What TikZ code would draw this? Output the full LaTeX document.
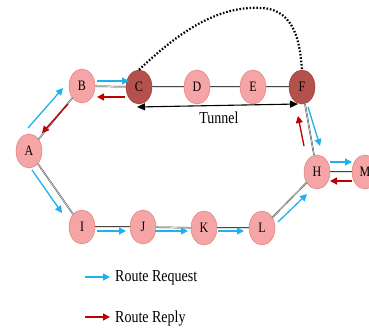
\documentclass[tikz,border=0pt]{standalone}
\usepackage{fontspec}
\setmainfont{Liberation Serif}
\usetikzlibrary{arrows.meta,shapes.geometric}
\definecolor{nodepink}{HTML}{F5A5A5}
\definecolor{nodeedge}{HTML}{E07C7C}
\definecolor{nodedark}{HTML}{B5514C}
\definecolor{darkedge}{HTML}{9E3D3A}
\definecolor{reqblue}{HTML}{1DB2EC}
\definecolor{repred}{HTML}{C00000}
\tikzset{
  net/.style={ellipse, draw=nodeedge, fill=nodepink, line width=0.5pt,
    minimum width=26pt, minimum height=34pt, inner sep=0pt,
    font=\fontsize{12}{12}\selectfont},
  hub/.style={net, draw=darkedge, fill=nodedark},
  link/.style={draw=gray!55!black, line width=0.45pt, double=gray!25, double distance=0.6pt},
  req/.style={draw=reqblue, line width=1.3pt, -{Triangle[length=7pt,width=7pt]}},
  rep/.style={draw=repred, line width=1.3pt, -{Triangle[length=7pt,width=7pt]}},
  tunnelarrow/.style={draw=black, line width=1.1pt, {Triangle[length=8pt,width=7pt]}-{Triangle[length=8pt,width=7pt]}},
  tunnelpath/.style={draw=black, line width=2.2pt, dash pattern=on 1.6pt off 1.8pt},
  lbl/.style={inner sep=0pt, font=\fontsize{14}{14}\selectfont}
}
\newcommand{\tall}[1]{\scalebox{1}[1.2]{#1}}
\begin{document}
\begin{tikzpicture}[x=1pt,y=-1pt]
\useasboundingbox (0,0) rectangle (369,331);
% nodes
\node[net] (A) at (29,151) {\tall{A}};
\node[net] (B) at (82,86) {\tall{B}};
\node[hub] (C) at (139,87) {\tall{C}};
\node[net] (D) at (197,87) {\tall{D}};
\node[net] (E) at (253,87) {\tall{E}};
\node[hub] (F) at (302,87) {\tall{F}};
\node[net] (H) at (317,172) {\tall{H}};
\node[net] (M) at (365,172) {\tall{M}};
\node[net] (I) at (82,227) {\tall{I}};
\node[net] (J) at (143,227) {\tall{J}};
\node[net] (K) at (204,228) {\tall{K}};
\node[net] (L) at (262,228) {\tall{L}};
% links
\draw[link] (A) -- (B);
\draw[link] (B) -- (C);
\draw[link] (C) -- (D);
\draw[link] (D) -- (E);
\draw[link] (E) -- (F);
\draw[link] (F) -- (H);
\draw[link] (H) -- (M);
\draw[link] (A) -- (I);
\draw[link] (I) -- (J);
\draw[link] (J) -- (K);
\draw[link] (K) -- (L);
\draw[link] (L) -- (H);
% tunnel
\draw[tunnelpath] (C.north) .. controls (175,36) and (215,5) .. (262,8)
  .. controls (296,10) and (300,45) .. (F.north);
\coordinate (t1) at (137,107);
\coordinate (t2) at (298,104);
\draw[tunnelarrow] (t1) -- (t2);
\node[lbl] (tun) at (219,118) {\tall{Tunnel}};
% request / reply arrows
\coordinate (q1s) at (28,128);  \coordinate (q1e) at (63,88);
\coordinate (q2s) at (97,81);   \coordinate (q2e) at (129,81);
\coordinate (p1s) at (125,97);  \coordinate (p1e) at (97,97);
\coordinate (p2s) at (68,104);  \coordinate (p2e) at (42,133);
\coordinate (q3s) at (308,107); \coordinate (q3e) at (320,146);
\coordinate (p3s) at (304,146); \coordinate (p3e) at (298,116);
\coordinate (q4s) at (330,162); \coordinate (q4e) at (352,162);
\coordinate (p4s) at (352,181); \coordinate (p4e) at (330,181);
\coordinate (q5s) at (32,170);  \coordinate (q5e) at (62,213);
\coordinate (q6s) at (97,231);  \coordinate (q6e) at (126,231);
\coordinate (q7s) at (155,231); \coordinate (q7e) at (188,231);
\coordinate (q8s) at (218,231); \coordinate (q8e) at (244,231);
\coordinate (q9s) at (278,222); \coordinate (q9e) at (307,194);
\draw[req] (q1s) -- (q1e);
\draw[req] (q2s) -- (q2e);
\draw[rep] (p1s) -- (p1e);
\draw[rep] (p2s) -- (p2e);
\draw[req] (q3s) -- (q3e);
\draw[rep] (p3s) -- (p3e);
\draw[req] (q4s) -- (q4e);
\draw[rep] (p4s) -- (p4e);
\draw[req] (q5s) -- (q5e);
\draw[req] (q6s) -- (q6e);
\draw[req] (q7s) -- (q7e);
\draw[req] (q8s) -- (q8e);
\draw[req] (q9s) -- (q9e);
% legend
\coordinate (lq1) at (85,277); \coordinate (lq2) at (110,277);
\coordinate (lp1) at (85,317); \coordinate (lp2) at (110,317);
\draw[req] (lq1) -- (lq2);
\draw[rep] (lp1) -- (lp2);
\node[lbl, anchor=west] (lreq) at (115,278) {\tall{Route Request}};
\node[lbl, anchor=west] (lrep) at (115,318) {\tall{Route Reply}};
\end{tikzpicture}
\end{document}
